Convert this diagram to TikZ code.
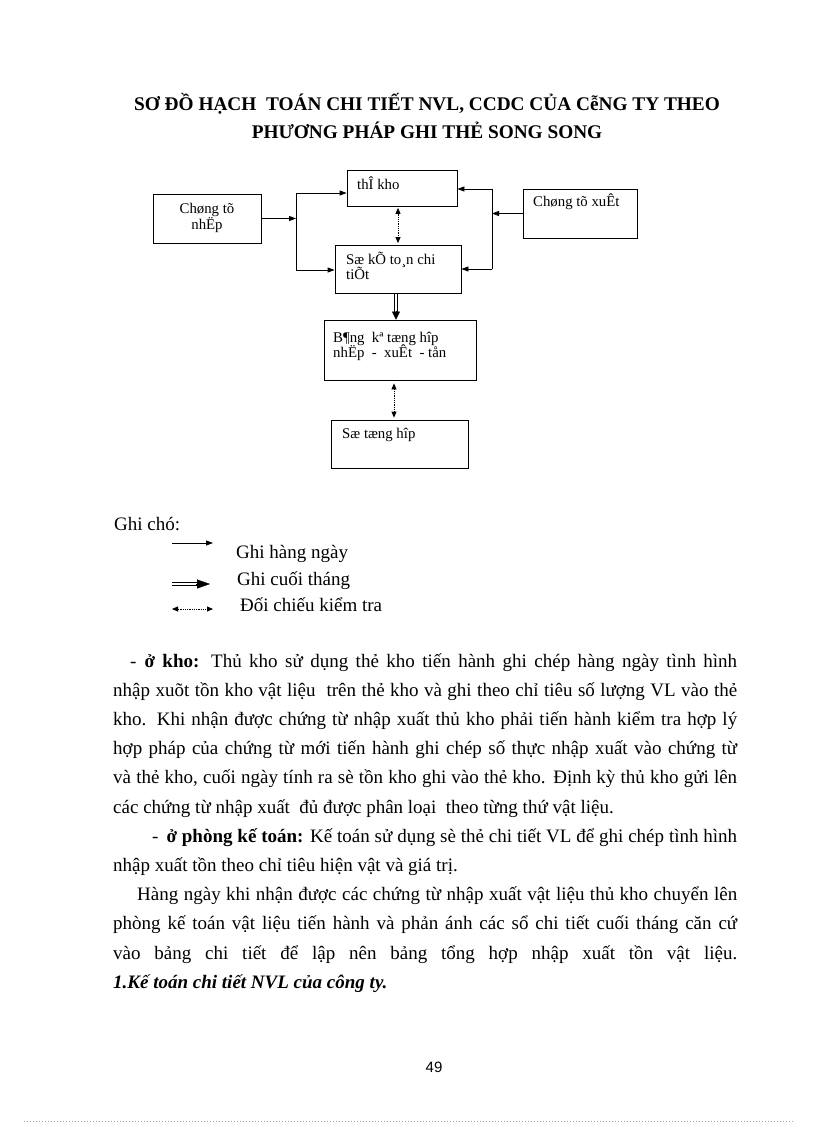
\documentclass[tikz,border=0pt]{standalone}
\usepackage{fontspec}
\setmainfont{Liberation Serif}
\newfontfamily\pagenumfont{Liberation Sans}
\usetikzlibrary{arrows.meta}
\begin{document}
\begin{tikzpicture}[x=1pt,y=-1pt,
  box/.style={draw, line width=0.8pt, inner sep=0pt, anchor=center},
  boxtxt/.style={font=\fontsize{14.8}{15.5}\selectfont, inner sep=0pt, anchor=base west},
  body/.style={font=\fontsize{19}{22}\selectfont, inner sep=0pt, anchor=base west},
  titletxt/.style={font=\bfseries\fontsize{19.3}{22}\selectfont, inner sep=0pt, anchor=base},
  ln/.style={line width=0.8pt},
  arr/.style={line width=0.8pt, -{Triangle[length=7pt,width=5pt]}},
  tiponly/.style={line width=0.3pt},
  dotarr/.style={line width=0.8pt, densely dotted, {Triangle[length=6pt,width=5pt]}-{Triangle[length=6pt,width=5pt]}}
]
\useasboundingbox (0,0) rectangle (816,1123);

% title
\node[titletxt] (t1) at (427,111) {SƠ ĐỒ HẠCH\ \ TOÁN CHI TIẾT NVL, CCDC CỦA CễNG TY THEO};
\node[titletxt] (t2) at (427,139) {PHƯƠNG PHÁP GHI THẺ SONG SONG};

% boxes
\node[box, minimum width=110pt, minimum height=36pt] (theKho) at (402,188) {};
\node[box, minimum width=108pt, minimum height=49pt] (ctNhap) at (207,218.5) {};
\node[box, minimum width=114pt, minimum height=49pt] (ctXuat) at (580,213.5) {};
\node[box, minimum width=126pt, minimum height=48pt] (soKT) at (398,269) {};
\node[box, minimum width=152pt, minimum height=60pt] (bang) at (400,350) {};
\node[box, minimum width=137pt, minimum height=48pt] (soTH) at (399.5,444) {};

% box texts
\node[boxtxt] (tkTxt) at (357,190) {thÎ kho};
\node[font=\fontsize{14.8}{15.8}\selectfont, inner sep=0pt, align=center] (cnTxt) at (207,218) {Chøng tõ\\nhËp};
\node[boxtxt] (cxTxt) at (533,207) {Chøng tõ xuÊt};
\node[boxtxt] (skTxtA) at (346,264) {Sæ kÕ to¸n chi};
\node[boxtxt] (skTxtB) at (346,279) {tiÕt};
\node[boxtxt] (bgTxtA) at (333,342) {B¶ng\ \ kª tæng hîp};
\node[boxtxt] (bgTxtB) at (333,357) {nhËp\ \ -\ \ xuÊt\ \ - tån};
\node[boxtxt] (thTxt) at (342,438) {Sæ tæng hîp};

% left connectors
\coordinate (lt) at (296,193);
\coordinate (lm) at (296,218.5);
\coordinate (lb) at (296,270);
\draw[arr] (ctNhap.east) -- (lm);
\draw[ln] (lt) -- (lb);
\draw[arr] (lt) -- (lt -| theKho.west);
\draw[arr] (lb) -- (lb -| soKT.west);

% right connectors
\coordinate (rt) at (492,189);
\coordinate (rm) at (492,213.5);
\coordinate (rb) at (492,269);
\draw[arr] (ctXuat.west) -- (rm);
\draw[ln] (rt) -- (rb);
\draw[arr] (rt) -- (rt -| theKho.east);
\draw[arr] (rb) -- (rb -| soKT.east);

% vertical connectors
\draw[dotarr, shorten <=1.5pt, shorten >=1.5pt] (soKT.north |- theKho.south) -- (soKT.north);
\coordinate (dA) at ([xshift=-2pt]soKT.south);
\coordinate (dB) at (dA |- bang.north);
\draw[ln, shorten >=7pt] ([xshift=-1.4pt]dA) -- ([xshift=-1.4pt]dB);
\draw[ln, shorten >=7pt] ([xshift=1.4pt]dA) -- ([xshift=1.4pt]dB);
\draw[tiponly, -{Triangle[length=8pt,width=8pt]}] ([yshift=9pt]dB) -- (dB);
\draw[dotarr, shorten <=3pt, shorten >=2pt] ([xshift=-6pt]bang.south) -- ([xshift=-6pt]bang.south |- soTH.north);

% legend
\node[body] (ghichu) at (114,530) {Ghi chó:};
\coordinate (la1) at (172,543);
\coordinate (lb1) at (213,543);
\draw[arr] (la1) -- (lb1);
\node[body] (lg1) at (236,558) {Ghi hàng ngày};
\coordinate (la2) at (172,584);
\coordinate (lb2) at (210,584);
\draw[ln, shorten >=11pt] ([yshift=1.4pt]la2) -- ([yshift=1.4pt]lb2);
\draw[ln, shorten >=11pt] ([yshift=-1.4pt]la2) -- ([yshift=-1.4pt]lb2);
\draw[tiponly, -{Triangle[length=13pt,width=9pt]}] ([xshift=-14pt]lb2) -- (lb2);
\node[body] (lg2) at (237,585) {Ghi cuối tháng};
\coordinate (la3) at (172,609);
\coordinate (lb3) at (213,609);
\draw[dotarr] (la3) -- (lb3);
\node[body] (lg3) at (240,611) {Đối chiếu kiểm tra};

% body text
\node[body] (p1) at (130,667) {\makebox[607pt][s]{-\hspace{8pt}\textbf{ở kho:} Thủ kho sử dụng thẻ kho tiến hành ghi chép hàng ngày tình hình}};
\node[body] (p2) at (113,696.2) {\makebox[624pt][s]{nhập xuõt tồn kho vật liệu\ \ trên thẻ kho và ghi theo chỉ tiêu số lượng VL vào thẻ}};
\node[body] (p3) at (113,725.4) {\makebox[624pt][s]{kho. Khi nhận được chứng từ nhập xuất thủ kho phải tiến hành kiểm tra hợp lý}};
\node[body] (p4) at (113,754.6) {\makebox[624pt][s]{hợp pháp của chứng từ mới tiến hành ghi chép số thực nhập xuất vào chứng từ}};
\node[body] (p5) at (113,783.8) {\makebox[624pt][s]{và thẻ kho, cuối ngày tính ra sè tồn kho ghi vào thẻ kho. Định kỳ thủ kho gửi lên}};
\node[body] (p6) at (113,813) {các chứng từ nhập xuất\ \ đủ được phân loại\ \ theo từng thứ vật liệu.};
\node[body] (p7) at (152,842.2) {\makebox[585pt][s]{-\hspace{8pt}\textbf{ở phòng kế toán:} Kế toán sử dụng sè thẻ chi tiết VL để ghi chép tình hình}};
\node[body] (p8) at (113,871.4) {nhập xuất tồn theo chỉ tiêu hiện vật và giá trị.};
\node[body] (p9) at (137,900.6) {\makebox[600pt][s]{Hàng ngày khi nhận được các chứng từ nhập xuất vật liệu thủ kho chuyển lên}};
\node[body] (p10) at (113,929.8) {\makebox[624pt][s]{phòng kế toán vật liệu tiến hành và phản ánh các sổ chi tiết cuối tháng căn cứ}};
\node[body] (p11) at (113,959) {\makebox[624pt][s]{vào bảng chi tiết để lập nên bảng tổng hợp nhập xuất tồn vật liệu.}};
\node[body] (p12) at (113,988.2) {\textbf{\textit{1.Kế toán chi tiết NVL của công ty.}}};

% footer
\node[font=\pagenumfont\fontsize{15}{18}\selectfont, inner sep=0pt] (pg) at (434,1067) {49};
\draw[gray!70, line width=0.6pt, dash pattern=on 1pt off 2pt] (24,1121) -- (793,1121);
\end{tikzpicture}
\end{document}
